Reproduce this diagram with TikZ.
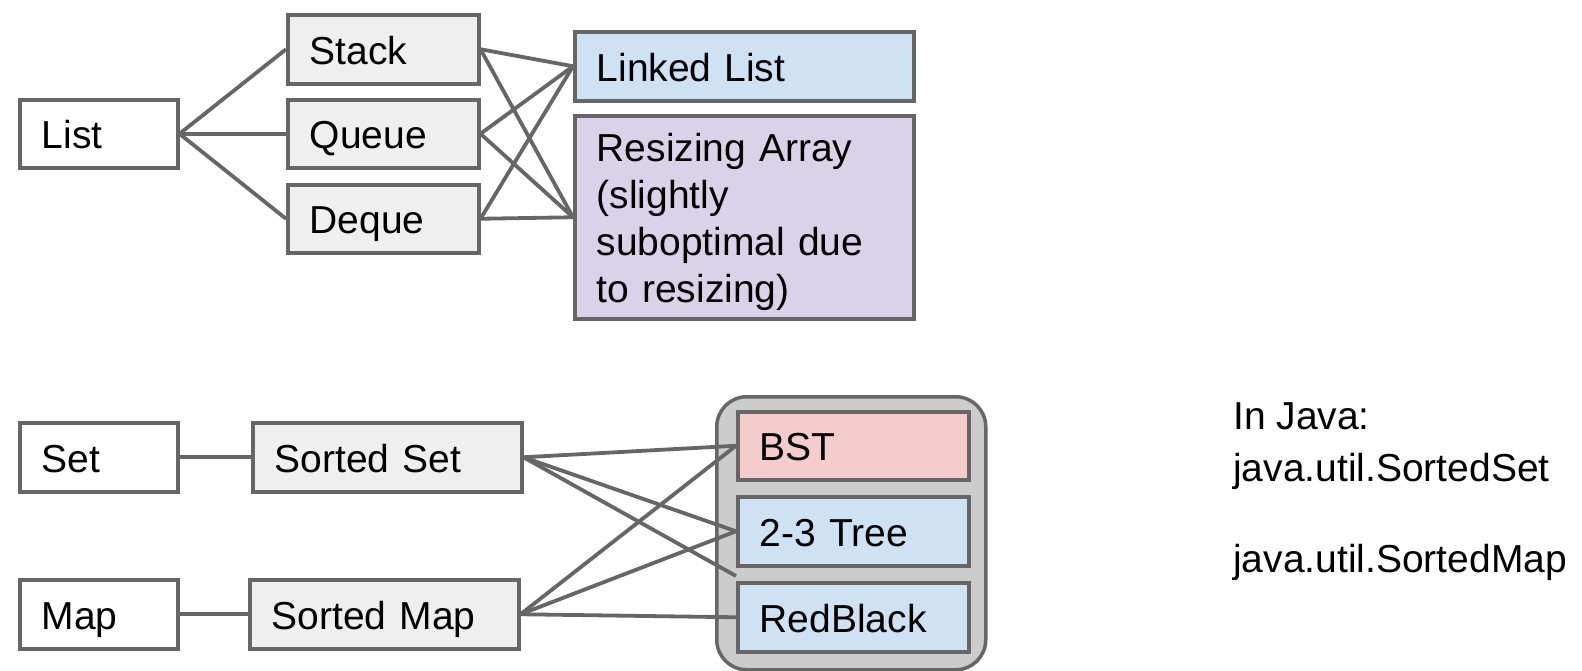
\documentclass[tikz,border=0pt]{standalone}
\usepackage{fontspec}
\setmainfont{Liberation Sans}
\usetikzlibrary{calc}
\definecolor{edgegray}{HTML}{666666}
\definecolor{boxgray}{HTML}{EFEFEF}
\definecolor{boxblue}{HTML}{CFE2F3}
\definecolor{boxpurple}{HTML}{D9D2E9}
\definecolor{boxpink}{HTML}{F4CCCC}
\definecolor{groupgray}{HTML}{CCCCCC}
\begin{document}
\begin{tikzpicture}[x=1pt,y=-1pt,
  box/.style={draw=edgegray, line width=3.5pt, rectangle, anchor=north west,
    inner xsep=22pt, inner ysep=0pt, align=left,
    font=\fontsize{39}{47}\selectfont},
  oneline/.style={box, text height=30pt, text depth=0pt},
  conn/.style={draw=edgegray, line width=3.8pt},
  grp/.style={draw=edgegray, fill=groupgray, line width=3.5pt, rounded corners=30pt,
    anchor=north west, inner sep=0pt},
  note/.style={anchor=base west, inner sep=0pt, font=\fontsize{39}{47}\selectfont}
]
\useasboundingbox[fill=white] (0,0) rectangle (1582,670);

% top part
\node[oneline, fill=white, minimum width=158pt, minimum height=68pt, text width=114pt] (list) at (18,98) {List};
\node[oneline, fill=boxgray, minimum width=191pt, minimum height=69pt, text width=147pt] (stack) at (286,13) {Stack};
\node[oneline, fill=boxgray, minimum width=191pt, minimum height=68pt, text width=147pt] (queue) at (286,98) {Queue};
\node[oneline, fill=boxgray, minimum width=191pt, minimum height=68pt, text width=147pt] (deque) at (286,183) {Deque};
\node[oneline, fill=boxblue, minimum width=339pt, minimum height=69pt, text width=295pt] (ll) at (573,30) {Linked List};
\node[box, fill=boxpurple, minimum width=339pt, minimum height=203pt, text width=295pt] (ra) at (573,114) {\rule{0pt}{38pt}Resizing Array\\(slightly\\suboptimal due\\to resizing)};

% bottom part
\node[oneline, fill=white, minimum width=158pt, minimum height=69pt, text width=114pt] (set) at (18,421) {Set};
\node[oneline, fill=boxgray, minimum width=269pt, minimum height=69pt, text width=225pt] (sset) at (251,421) {Sorted Set};
\node[oneline, fill=white, minimum width=158pt, minimum height=69pt, text width=114pt] (map) at (18,578) {Map};
\node[oneline, fill=boxgray, minimum width=269pt, minimum height=69pt, text width=225pt] (smap) at (248,578) {Sorted Map};

\node[grp, minimum width=269pt, minimum height=273pt] (group) at (715,395) {};
\node[oneline, fill=boxpink, minimum width=231pt, minimum height=68pt, text width=187pt] (bst) at (736,410) {BST};
\node[oneline, fill=boxblue, minimum width=231pt, minimum height=69pt, text width=187pt] (tt) at (736,495) {2-3 Tree};
\node[oneline, fill=boxblue, minimum width=231pt, minimum height=69pt, text width=187pt] (rb) at (736,581) {RedBlack};

\coordinate (rbtop) at ($(rb.north west)+(0,-5)$);

% connectors
\draw[conn] (list.east) -- (stack.west);
\draw[conn] (list.east) -- (queue.west);
\draw[conn] (list.east) -- (deque.west);
\draw[conn] (stack.east) -- (ll.west);
\draw[conn] (stack.east) -- (ra.west);
\draw[conn] (queue.east) -- (ll.west);
\draw[conn] (queue.east) -- (ra.west);
\draw[conn] (deque.east) -- (ll.west);
\draw[conn] (deque.east) -- (ra.west);

\draw[conn] (set.east) -- (sset.west);
\draw[conn] (map.east) -- (smap.west);
\draw[conn] (sset.east) -- (bst.west);
\draw[conn] (sset.east) -- (tt.west);
\draw[conn] (sset.east) -- (rbtop);
\draw[conn] (smap.east) -- (bst.west);
\draw[conn] (smap.east) -- (tt.west);
\draw[conn] (smap.east) -- (rb.west);

% note
\node[note] (n1) at (1233,429) {In Java:};
\node[note] (n2) at (1233,481) {java.util.SortedSet};
\node[note] (n3) at (1233,572) {java.util.SortedMap};
\end{tikzpicture}
\end{document}
